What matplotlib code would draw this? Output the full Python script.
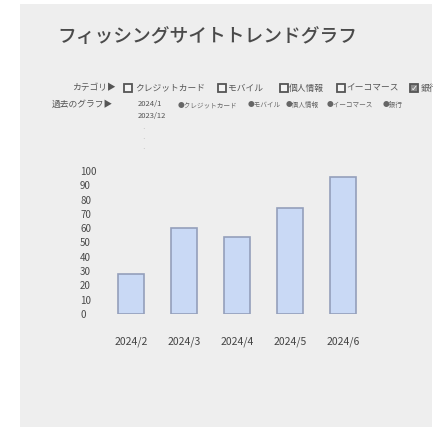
import numpy as np
import matplotlib.pyplot as plt
from matplotlib.patches import Rectangle

plt.rcParams['font.family'] = ['Noto Sans CJK JP', 'DejaVu Sans']

# data
months = ['2024/2', '2024/3', '2024/4', '2024/5', '2024/6']
counts = [28, 60, 54, 74, 96]
yticks = list(range(0, 101, 10))
categories = ['クレジットカード', 'モバイル', '個人情報', 'イーコマース', '銀行']
checked = [False, False, False, False, True]
past_months = ['2024/1', '2023/12']
title = 'フィッシングサイトトレンドグラフ'

W, H = 433, 429
fig = plt.figure(figsize=(W/100, H/100), dpi=100)
fig.patch.set_facecolor('white')

def fx(x):
    return x / W

def fy(y):
    return 1 - y / H

# gray panel (behind everything)
fig.patches.append(Rectangle((fx(20), fy(427)), fx(412), 423/H, transform=fig.transFigure,
                             facecolor='#eeeeee', edgecolor='none', zorder=-5))

fig.text(fx(57), fy(36), title, fontsize=13.5, color='#4a4a4a', va='center', ha='left',
         weight='medium')

# category row
fig.text(fx(72), fy(88), 'カテゴリ▶', fontsize=6.3, color='#555555', va='center')
box_x = [124, 218, 280, 337, 410]
txt_x = [135, 228, 289, 346, 421]
for bx, tx, name, on in zip(box_x, txt_x, categories, checked):
    fig.patches.append(Rectangle((fx(bx), fy(92)), 8/W, 8/H, transform=fig.transFigure,
                                 facecolor='#8a8a8a' if on else '#f4f4f4',
                                 edgecolor='#555555', linewidth=1.3, zorder=2))
    if on:
        fig.text(fx(bx + 4), fy(88), '✓', fontsize=6, color='white', ha='center', va='center',
                 family='DejaVu Sans', zorder=3)
    fig.text(fx(tx), fy(88), name, fontsize=6.3, color='#555555', va='center')

# past graph row
fig.text(fx(52), fy(104), '過去のグラフ▶', fontsize=6.3, color='#555555', va='center')
fig.text(fx(138), fy(104), past_months[0], fontsize=5.5, color='#555555', va='center')
fig.text(fx(138), fy(116), past_months[1], fontsize=5.5, color='#555555', va='center')
for yy in [130, 140, 150]:
    fig.text(fx(144), fy(yy), '·', fontsize=6, color='#b5b5b5', ha='center', va='center')
bullet_x = [178, 248, 286, 327, 383]
for bx, name in zip(bullet_x, categories):
    fig.text(fx(bx), fy(105), '●' + name, fontsize=4.8, color='#666666', va='center')

# bar chart
ax = fig.add_axes([fx(112), fy(314), 258/W, 143/H])
ax.patch.set_alpha(0)
x = np.arange(len(months))
ax.bar(x, counts, width=0.5, color='#c9d9f5', edgecolor='#949fbb', linewidth=1.2)
ax.set_ylim(0, 100)
ax.set_xlim(-0.358, 4.51)
ax.set_yticks(yticks)
ax.set_yticklabels([str(t) for t in yticks], fontsize=7, color='#4a4a4a', ha='left')
ax.tick_params(axis='y', length=0, pad=23)
ax.set_xticks(x)
ax.set_xticklabels(months, fontsize=7.5, color='#444444')
ax.tick_params(axis='x', length=0, pad=16)
for s in ax.spines.values():
    s.set_visible(False)

fig.savefig('out.png', dpi=100, facecolor=fig.get_facecolor())
